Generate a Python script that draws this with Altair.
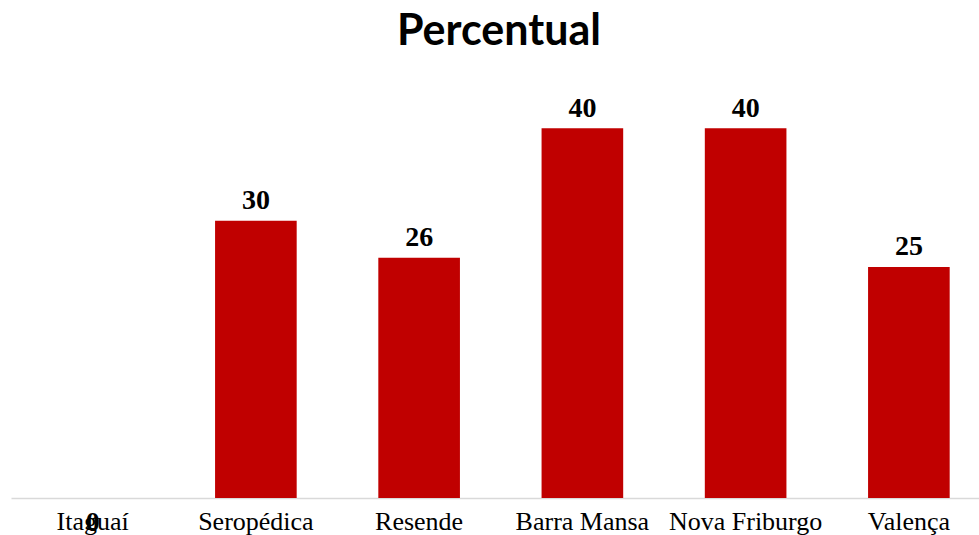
import altair as alt
import pandas as pd

categories = ["Itaguaí", "Seropédica", "Resende", "Barra Mansa", "Nova Friburgo", "Valença"]
values = [0, 30, 26, 40, 40, 25]
title_text = ["Percentual"]

df = pd.DataFrame({"cat": categories, "v": values})

xscale = alt.Scale(domain=categories, range=[0, 979.5], paddingInner=0.5, paddingOuter=0.25)
yscale = alt.Scale(domain=[0, 45])

base = alt.Chart(df)

bars = base.mark_bar(color="#C00000").encode(
    x=alt.X("cat:N", scale=xscale, sort=categories, title=None,
            axis=alt.Axis(labelAngle=0, labelFont="Liberation Serif", labelFontSize=26,
                          labelColor="#000000", labelBaseline="alphabetic", labelPadding=31,
                          ticks=False, tickSize=0, domainColor="#D9D9D9", domainWidth=1.5,
                          grid=False, labelOverlap=False)),
    y=alt.Y("v:Q", scale=yscale, axis=None),
)

labels = base.transform_filter("datum.v > 0").mark_text(
    font="Liberation Serif", fontSize=28, fontWeight="bold", color="#000000",
    baseline="alphabetic", dy=-11.5,
).encode(
    x=alt.X("cat:N", scale=xscale, sort=categories),
    y=alt.Y("v:Q", scale=yscale),
    text=alt.Text("v:Q"),
)

zero_labels = base.transform_filter("datum.v == 0").mark_text(
    font="Liberation Serif", fontSize=28, fontWeight="bold", color="#000000",
    baseline="alphabetic", dy=33,
).encode(
    x=alt.X("cat:N", scale=xscale, sort=categories),
    y=alt.Y("v:Q", scale=yscale),
    text=alt.Text("v:Q"),
)

title = alt.Chart(pd.DataFrame({"t": title_text})).mark_text(
    font="Lato", fontSize=43, fontWeight="bold", color="#000000",
    baseline="alphabetic", align="center",
).encode(
    x=alt.value(488),
    y=alt.value(-37),
    text="t:N",
)

chart = alt.layer(bars, labels, zero_labels, title).properties(
    width=968, height=416, autosize="none",
    padding={"left": 11, "top": 82, "right": 0, "bottom": 37},
).configure_view(stroke=None)

chart.save("out.html", embed_options={"renderer": "svg", "actions": False})
